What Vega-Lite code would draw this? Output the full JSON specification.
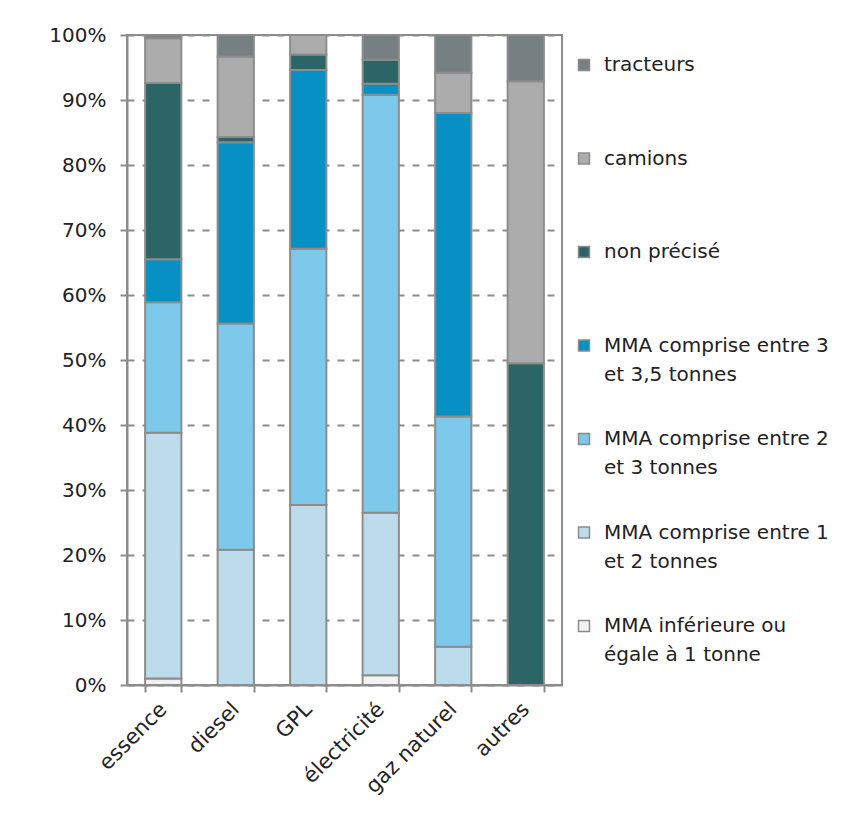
{
  "$schema": "https://vega.github.io/schema/vega-lite/v6.json",
  "width": 435,
  "height": 650,
  "autosize": {"type": "none"},
  "padding": {"left": 127, "top": 35, "right": 295, "bottom": 129},
  "background": "#ffffff",
  "config": {
    "font": "DejaVu Sans",
    "view": {"stroke": "#8c8c8c", "strokeWidth": 2},
    "axis": {
      "domainColor": "#8c8c8c",
      "domainWidth": 2,
      "tickColor": "#8c8c8c",
      "tickWidth": 2,
      "tickSize": 7,
      "labelFont": "DejaVu Sans",
      "labelFontSize": 20,
      "labelColor": "#222222",
      "title": null
    },
    "legend": {
      "labelFont": "DejaVu Sans",
      "labelFontSize": 20,
      "labelColor": "#222222"
    },
    "style": {"guide-label": {"lineHeight": 29}}
  },
  "data": {
    "values": [
      {"energie": "essence", "categorie": "MMA inférieure ou égale à 1 tonne", "part": 0.010},
      {"energie": "essence", "categorie": "MMA comprise entre 1 et 2 tonnes", "part": 0.378},
      {"energie": "essence", "categorie": "MMA comprise entre 2 et 3 tonnes", "part": 0.201},
      {"energie": "essence", "categorie": "MMA comprise entre 3 et 3,5 tonnes", "part": 0.066},
      {"energie": "essence", "categorie": "non précisé", "part": 0.271},
      {"energie": "essence", "categorie": "camions", "part": 0.069},
      {"energie": "essence", "categorie": "tracteurs", "part": 0.005},

      {"energie": "diesel", "categorie": "MMA comprise entre 1 et 2 tonnes", "part": 0.208},
      {"energie": "diesel", "categorie": "MMA comprise entre 2 et 3 tonnes", "part": 0.348},
      {"energie": "diesel", "categorie": "MMA comprise entre 3 et 3,5 tonnes", "part": 0.279},
      {"energie": "diesel", "categorie": "non précisé", "part": 0.008},
      {"energie": "diesel", "categorie": "camions", "part": 0.124},
      {"energie": "diesel", "categorie": "tracteurs", "part": 0.033},

      {"energie": "GPL", "categorie": "MMA comprise entre 1 et 2 tonnes", "part": 0.277},
      {"energie": "GPL", "categorie": "MMA comprise entre 2 et 3 tonnes", "part": 0.394},
      {"energie": "GPL", "categorie": "MMA comprise entre 3 et 3,5 tonnes", "part": 0.275},
      {"energie": "GPL", "categorie": "non précisé", "part": 0.024},
      {"energie": "GPL", "categorie": "camions", "part": 0.030},

      {"energie": "électricité", "categorie": "MMA inférieure ou égale à 1 tonne", "part": 0.015},
      {"energie": "électricité", "categorie": "MMA comprise entre 1 et 2 tonnes", "part": 0.250},
      {"energie": "électricité", "categorie": "MMA comprise entre 2 et 3 tonnes", "part": 0.643},
      {"energie": "électricité", "categorie": "MMA comprise entre 3 et 3,5 tonnes", "part": 0.017},
      {"energie": "électricité", "categorie": "non précisé", "part": 0.037},
      {"energie": "électricité", "categorie": "tracteurs", "part": 0.038},

      {"energie": "gaz naturel", "categorie": "MMA comprise entre 1 et 2 tonnes", "part": 0.059},
      {"energie": "gaz naturel", "categorie": "MMA comprise entre 2 et 3 tonnes", "part": 0.354},
      {"energie": "gaz naturel", "categorie": "MMA comprise entre 3 et 3,5 tonnes", "part": 0.467},
      {"energie": "gaz naturel", "categorie": "camions", "part": 0.062},
      {"energie": "gaz naturel", "categorie": "tracteurs", "part": 0.058},

      {"energie": "autres", "categorie": "non précisé", "part": 0.495},
      {"energie": "autres", "categorie": "camions", "part": 0.434},
      {"energie": "autres", "categorie": "tracteurs", "part": 0.071}
    ]
  },
  "transform": [
    {
      "calculate": "indexof(['MMA inférieure ou égale à 1 tonne', 'MMA comprise entre 1 et 2 tonnes', 'MMA comprise entre 2 et 3 tonnes', 'MMA comprise entre 3 et 3,5 tonnes', 'non précisé', 'camions', 'tracteurs'], datum.categorie)",
      "as": "rang_pile"
    }
  ],
  "mark": {"type": "bar", "stroke": "#8c8c8c", "strokeWidth": 2},
  "encoding": {
    "x": {
      "field": "energie",
      "type": "nominal",
      "sort": ["essence", "diesel", "GPL", "électricité", "gaz naturel", "autres"],
      "scale": {"paddingInner": 0.5, "paddingOuter": 0.25},
      "axis": {
        "labelAngle": -45,
        "labelAlign": "right",
        "labelBaseline": "middle",
        "labelPadding": 14,
        "labelFontSize": 21,
        "tickBand": "extent",
        "grid": false
      }
    },
    "y": {
      "field": "part",
      "type": "quantitative",
      "stack": "zero",
      "scale": {"domain": [0, 1], "nice": false},
      "axis": {
        "format": ".0%",
        "values": [0, 0.1, 0.2, 0.3, 0.4, 0.5, 0.6, 0.7, 0.8, 0.9, 1],
        "grid": true,
        "gridColor": "#8c8c8c",
        "gridWidth": 2,
        "gridDash": [7, 8],
        "labelPadding": 14
      }
    },
    "order": {"field": "rang_pile", "type": "quantitative", "sort": "ascending"},
    "color": {
      "field": "categorie",
      "type": "nominal",
      "scale": {
        "domain": [
          "tracteurs",
          "camions",
          "non précisé",
          "MMA comprise entre 3 et 3,5 tonnes",
          "MMA comprise entre 2 et 3 tonnes",
          "MMA comprise entre 1 et 2 tonnes",
          "MMA inférieure ou égale à 1 tonne"
        ],
        "range": ["#767f82", "#acacac", "#2c6566", "#0690c3", "#7cc9eb", "#bcdcec", "#f2f2f2"]
      },
      "legend": {
        "title": null,
        "orient": "none",
        "legendX": 447,
        "legendY": 20,
        "padding": 0,
        "symbolType": "square",
        "symbolSize": 121,
        "symbolStrokeColor": "#8c8c8c",
        "symbolStrokeWidth": 1.5,
        "labelOffset": 10,
        "labelLimit": 300,
        "labelBaseline": "middle",
        "rowPadding": 44.5,
        "labelExpr": "datum.label == 'MMA inférieure ou égale à 1 tonne' ? ['MMA inférieure ou', 'égale à 1 tonne'] : indexof(datum.label, ' et ') > 0 ? [slice(datum.label, 0, indexof(datum.label, ' et ')), slice(datum.label, indexof(datum.label, ' et ') + 1)] : [datum.label, ' ']"
      }
    }
  }
}
